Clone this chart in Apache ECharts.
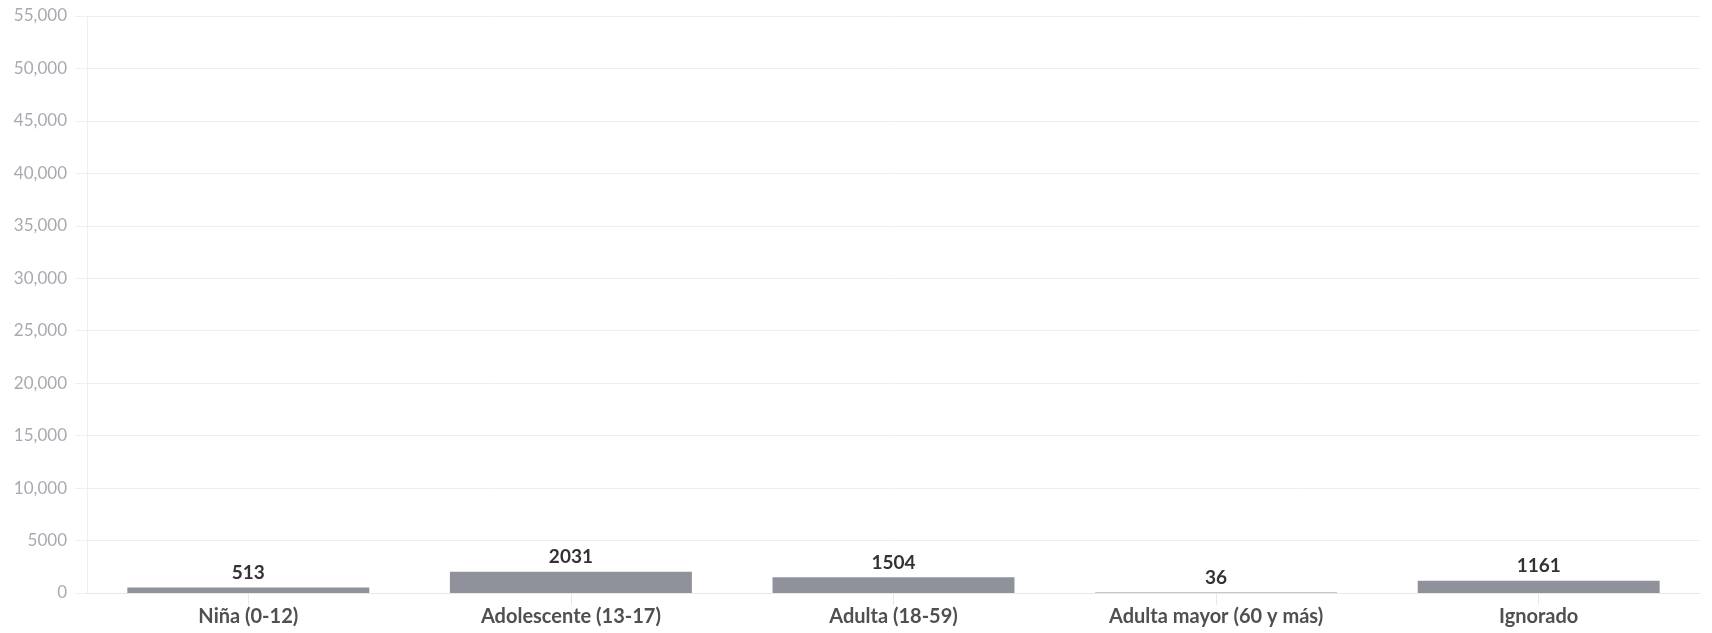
<!DOCTYPE html>
<html>
<head>
<meta charset="utf-8">
<script src="https://cdn.jsdelivr.net/npm/echarts@6/dist/echarts.min.js"></script>
<style>
html,body{margin:0;padding:0;background:#fff;}
#chart{width:1712px;height:633px;}
</style>
</head>
<body>
<div id="chart"></div>
<script>
const categories = ["Niña (0-12)", "Adolescente (13-17)", "Adulta (18-59)", "Adulta mayor (60 y más)", "Ignorado"];
const values = [513, 2031, 1504, 36, 1161];
const yTicks = [0, 5000, 10000, 15000, 20000, 25000, 30000, 35000, 40000, 45000, 50000, 55000];
const yTickLabels = ["0", "5000", "10,000", "15,000", "20,000", "25,000", "30,000", "35,000", "40,000", "45,000", "50,000", "55,000"];

const chart = echarts.init(document.getElementById('chart'), null, {renderer: 'canvas'});
chart.setOption({
  animation: false,
  grid: {left: 87, right: 12, top: 16, bottom: 40, containLabel: false},
  xAxis: {
    type: 'category',
    data: categories,
    axisLine: {show: true, lineStyle: {color: '#e8e8e8', width: 1}},
    axisTick: {show: true, alignWithLabel: true, length: 12, lineStyle: {color: '#e8e8e8'}},
    axisLabel: {
      color: '#505050', fontFamily: 'Lato', fontWeight: 'bold', fontSize: 20, margin: 14
    }
  },
  yAxis: {
    type: 'value',
    min: yTicks[0],
    max: yTicks[yTicks.length - 1],
    interval: yTicks[1] - yTicks[0],
    axisLine: {show: true, lineStyle: {color: '#eeeeee', width: 1}},
    axisTick: {show: true, length: 12, lineStyle: {color: '#eeeeee'}},
    splitLine: {show: true, lineStyle: {color: '#eeeeee', width: 1}},
    axisLabel: {
      color: '#a7aab0', fontFamily: 'Lato', fontSize: 17, margin: 20,
      formatter: function (v) { const i = yTicks.indexOf(v); return i >= 0 ? yTickLabels[i] : String(v); }
    }
  },
  series: [{
    type: 'bar',
    data: values,
    barWidth: '75%',
    itemStyle: {color: '#8f929b'},
    label: {
      show: true, position: 'top', distance: 5,
      color: '#333', fontFamily: 'Lato', fontWeight: 'bold', fontSize: 19
    }
  }]
});
</script>
</body>
</html>
